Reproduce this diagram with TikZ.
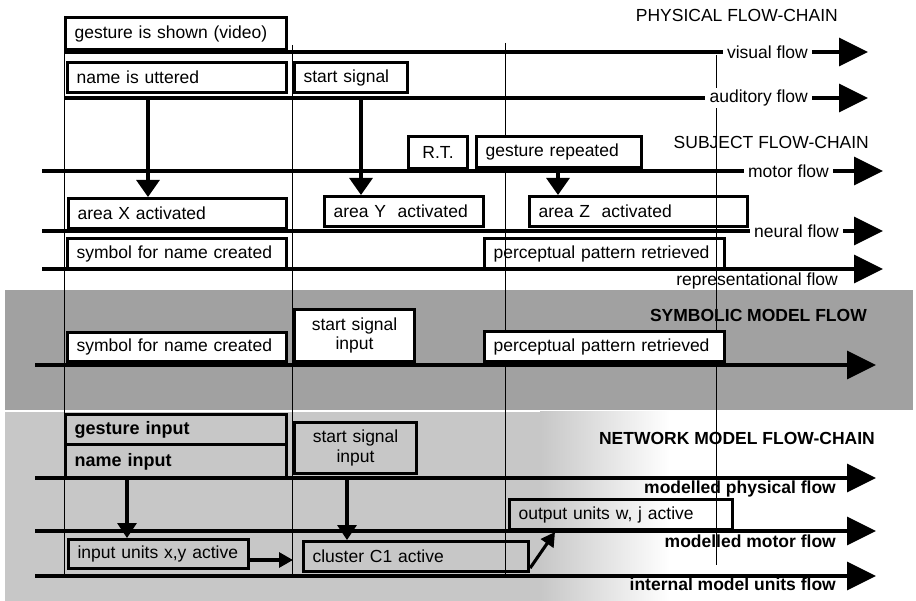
\documentclass[tikz,border=0pt]{standalone}
\usepackage{fontspec}
\setmainfont{Liberation Sans}
\usetikzlibrary{arrows.meta}

\newcommand\txtfont{\fontsize{17.5}{19.5}\selectfont}
\newcommand\inpfont{\fontsize{18}{20}\selectfont\bfseries}
\definecolor{symgray}{gray}{0.63}
\definecolor{netgray}{gray}{0.78}

\begin{document}
\begin{tikzpicture}[x=1pt,y=-1pt,
  box/.style={draw, line width=3.1pt, anchor=north west, inner xsep=9pt,
    inner ysep=0pt, align=left, font=\txtfont},
  wbox/.style={box, fill=white},
  flowline/.style={line width=3.4pt},
  bigtip/.style={-{Triangle[length=29pt,width=28pt]}},
  flowlab/.style={font=\txtfont, inner xsep=4pt, inner ysep=2pt, fill=white},
  sublab/.style={font=\txtfont\bfseries, inner sep=0pt, anchor=east},
  head/.style={font=\txtfont, inner sep=0pt, anchor=east},
  boldhead/.style={font=\txtfont\bfseries, inner sep=0pt, anchor=east},
  guide/.style={line width=1pt},
  conn/.style={line width=3.1pt, -{Triangle[length=17pt,width=23pt]}},
  nconn/.style={line width=3.1pt, -{Triangle[length=15pt,width=19pt]}},
  hconn/.style={line width=3.1pt, -{Triangle[length=14pt,width=15pt]}},
]
\useasboundingbox (0,0) rectangle (916,601);

% shaded model areas
\fill[symgray] (5,290) rectangle (913,410);
\fill[netgray] (5,412) rectangle (540,601);
\shade[left color=netgray, right color=white] (540,412) rectangle (670,601);

% thin vertical time guides
\draw[guide] (64,16) -- (64,578);
\draw[guide] (292,45) -- (292,575);
\draw[guide] (505,43) -- (505,575);
\draw[guide] (716,55) -- (716,565);

% ---------- physical flow-chain ----------
\node[head] (physH) at (838,15) {PHYSICAL FLOW-CHAIN};

\coordinate (visS) at (64,52);
\coordinate (visE) at (868,52);
\node[flowlab, anchor=east] (visL) at (812,52) {visual flow};
\draw[flowline] (visS) -- (visL.west);
\draw[flowline, bigtip] (visL.east) -- (visE);

\coordinate (audS) at (64,98);
\coordinate (audE) at (868,98);
\node[flowlab, anchor=east] (audL) at (812,98) {auditory flow};
\draw[flowline] (audS) -- (audL.west);
\draw[flowline, bigtip] (audL.east) -- (audE);

\node[wbox, text width=203pt, minimum height=32pt] (gshow) at (64,16) {gesture is shown (video)};
\node[wbox, text width=201pt, minimum height=30pt] (uttered) at (66,61) {name is uttered};
\node[wbox, text width=95pt, minimum height=30pt] (startsig) at (293,61) {start signal};

% ---------- subject flow-chain ----------
\node[head] (subjH) at (869,142) {SUBJECT FLOW-CHAIN};

\coordinate (motS) at (42,171);
\coordinate (motE) at (883,171);
\node[flowlab, anchor=east] (motL) at (833,171) {motor flow};
\draw[flowline] (motS) -- (motL.west);
\draw[flowline, bigtip] (motL.east) -- (motE);

\coordinate (neuS) at (42,231);
\coordinate (neuE) at (883,231);
\node[flowlab, anchor=east] (neuL) at (843,231) {neural flow};
\draw[flowline] (neuS) -- (neuL.west);
\draw[flowline, bigtip] (neuL.east) -- (neuE);

\coordinate (repS) at (42,269);
\coordinate (repE) at (883,269);
\draw[flowline, bigtip] (repS) -- (repE);
\node[head] (repL) at (838,281) {representational flow};

\node[wbox, text width=41pt, minimum height=32pt, align=center] (rt) at (407,135) {R.T.};
\node[wbox, text width=147pt, minimum height=31pt] (grep) at (475,135) {gesture repeated};
\node[wbox, text width=200pt, minimum height=30pt] (areaX) at (67,197) {area X activated};
\node[wbox, text width=141pt, minimum height=30pt] (areaY) at (323,195) {area Y~ activated};
\node[box, text width=200pt, minimum height=30pt] (areaZ) at (528,195) {area Z~ activated};
\node[wbox, text width=201pt, minimum height=30pt] (symS) at (66,237) {symbol for name created};
\node[box, text width=222pt, minimum height=30pt] (percS) at (483,237) {perceptual pattern retrieved};

\coordinate (a1) at (148,98);
\coordinate (a2) at (361,98);
\coordinate (a3) at (558,171);
\draw[conn] (a1) -- (areaX.north -| a1);
\draw[conn] (a2) -- (areaY.north -| a2);
\draw[conn] (a3) -- (areaZ.north -| a3);

% ---------- symbolic model flow ----------
\node[boldhead] (symH) at (867,315) {SYMBOLIC MODEL FLOW};
\coordinate (smfS) at (35,365);
\coordinate (smfE) at (876,365);
\draw[flowline, bigtip] (smfS) -- (smfE);

\node[wbox, text width=201pt, minimum height=29pt] (symM) at (66,331) {symbol for name created};
\node[wbox, text width=102pt, minimum height=52pt, align=center] (startM) at (293,308) {start signal\\input};
\node[wbox, text width=222pt, minimum height=30pt] (percM) at (483,330) {perceptual pattern retrieved};

% ---------- network model flow-chain ----------
\node[boldhead] (netH) at (875,438) {NETWORK MODEL FLOW-CHAIN};

\coordinate (mpS) at (35,478);
\coordinate (mpE) at (876,478);
\draw[flowline, bigtip] (mpS) -- (mpE);
\node[sublab] (mpL) at (836,489) {modelled physical flow};

\coordinate (mmS) at (35,531);
\coordinate (mmE) at (876,531);
\draw[flowline, bigtip] (mmS) -- (mmE);
\node[sublab] (mmL) at (836,541) {modelled motor flow};

\coordinate (imS) at (35,576);
\coordinate (imE) at (876,576);
\draw[flowline, bigtip] (imS) -- (imE);
\node[sublab] (imL) at (836,584) {internal model units flow};

\node[box, font=\inpfont, text width=203pt, minimum height=30pt] (gin) at (64,413) {gesture input};
\node[box, font=\inpfont, text width=203pt, minimum height=34pt] (nin) at (64,443) {name input};
\node[box, text width=104pt, minimum height=51pt, align=center] (startN) at (293,421) {start signal\\input};
\node[box, text width=162pt, minimum height=29pt] (inunits) at (67,538) {input units x,y active};
\node[box, text width=207pt, minimum height=30pt] (cluster) at (302,540) {cluster C1 active};
\node[box, text width=205pt, minimum height=30pt] (outunits) at (508,498) {output units w, j active};

\coordinate (n1) at (127,478);
\coordinate (n2) at (347,478);
\coordinate (h1) at (293,560);
\coordinate (d1) at (555,532);
\draw[nconn] (n1) -- (inunits.north -| n1);
\draw[nconn] (n2) -- (cluster.north -| n2);
\draw[hconn] (inunits.east |- h1) -- (h1);
\draw[hconn] ([yshift=5pt]cluster.south east) -- (d1);

\end{tikzpicture}
\end{document}
